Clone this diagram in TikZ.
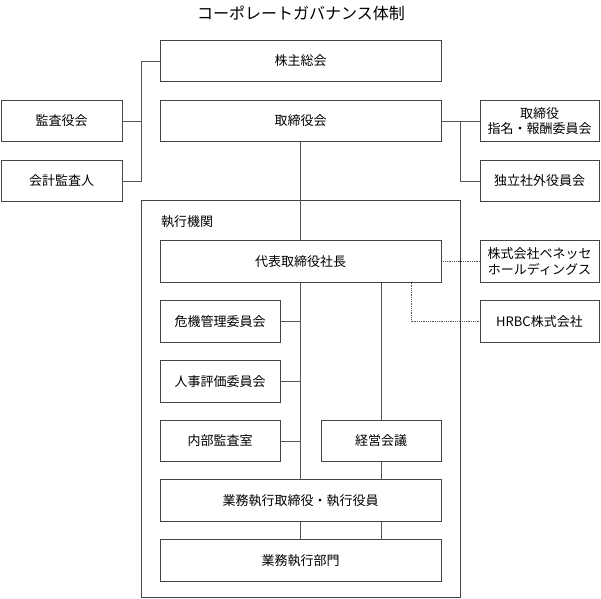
\documentclass[tikz,border=0pt]{standalone}
\usepackage{fontspec}
\setmainfont{Noto Sans CJK JP}
\definecolor{linec}{HTML}{555555}
\definecolor{boxc}{HTML}{444444}
\begin{document}
\begin{tikzpicture}[x=1pt,y=-1pt,
  bx/.style={draw=boxc, line width=0.9pt, fill=white, inner sep=0pt, minimum height=41.5pt, align=center, font=\fontsize{13}{16}\selectfont, text=black},
  wide/.style={bx, minimum width=281pt},
  small/.style={bx, minimum width=120pt},
  side/.style={bx, minimum width=120pt},
  conn/.style={draw=linec, line width=0.8pt},
  dotc/.style={draw=linec, line width=0.8pt, densely dotted}]
\useasboundingbox (0,0) rectangle (601,598);
\node[font=\fontsize{16}{18}\selectfont] (title) at (301,13) {コーポレートガバナンス体制};
% outer executive frame
\node[draw=boxc, line width=0.9pt, minimum width=319pt, minimum height=397pt, inner sep=0pt] (exec) at (300.5,398.5) {};
\node[anchor=west, inner sep=0pt, font=\fontsize{13}{16}\selectfont] (execlbl) at (161,222) {執行機関};
% top rows
\node[wide] (kabu) at (300.5,61) {株主総会};
\node[wide] (tori) at (300.5,121) {取締役会};
\node[side, minimum width=121pt] (kansa) at (61.5,121) {監査役会};
\node[side, minimum width=121pt] (kaikei) at (61.5,181) {会計監査人};
\node[side, minimum width=119pt, font=\fontsize{13}{15.5}\selectfont] (iinkai) at (539.5,121) {取締役\\指名・報酬委員会};
\node[side, minimum width=119pt] (doku) at (539.5,181) {独立社外役員会};
% executive
\node[wide] (daihyo) at (300.5,261.5) {代表取締役社長};
\node[side, minimum width=119pt, font=\fontsize{13}{15.5}\selectfont] (benesse) at (539.5,261.5) {株式会社ベネッセ\\ホールディングス};
\node[side, minimum width=119pt] (hrbc) at (539.5,321.5) {HRBC株式会社};
\node[small] (kiki) at (220,321.5) {危機管理委員会};
\node[small] (jinji) at (220,381.5) {人事評価委員会};
\node[small] (naibu) at (220,441) {内部監査室};
\node[small] (keiei) at (381,441) {経営会議};
\node[wide] (gyomu) at (300.5,500.5) {業務執行取締役・執行役員};
\node[wide] (bumon) at (300.5,560.5) {業務執行部門};
% helper coordinates
\coordinate (lx) at (141,0);
\coordinate (rx) at (460,0);
\coordinate (dx) at (411,0);
% connectors
\draw[conn] (kabu.west) -- (kabu.west -| lx) |- (kaikei.east);
\draw[conn] (kansa.east) -- (kansa.east -| lx);
\draw[conn] (tori.east) -- (iinkai.west);
\draw[conn] (tori.east -| rx) |- (doku.west);
\draw[conn] (tori.south) -- (daihyo.north);
\draw[conn] (daihyo.south) -- (gyomu.north);
\draw[conn] (daihyo.south -| keiei.north) -- (keiei.north);
\draw[conn] (keiei.south) -- (keiei.south |- gyomu.north);
\draw[conn] (kiki.east) -- (kiki.east -| daihyo.south);
\draw[conn] (jinji.east) -- (jinji.east -| daihyo.south);
\draw[conn] (naibu.east) -- (naibu.east -| daihyo.south);
\draw[conn] (gyomu.south) -- (bumon.north);
\draw[conn] (gyomu.south -| keiei.south) -- (bumon.north -| keiei.south);
\draw[dotc] (daihyo.east) -- (benesse.west);
\draw[dotc] (daihyo.south -| dx) |- (hrbc.west);
\end{tikzpicture}
\end{document}
